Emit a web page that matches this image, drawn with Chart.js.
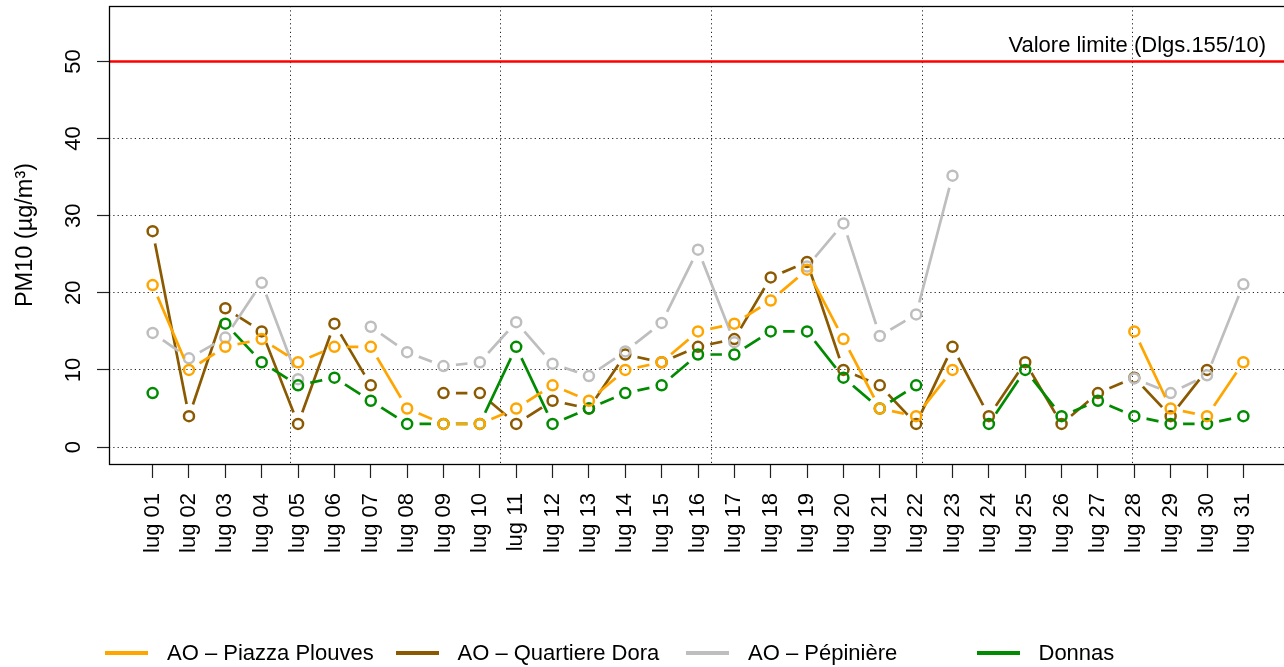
<!DOCTYPE html>
<html>
<head>
<meta charset="utf-8">
<script src="https://cdn.jsdelivr.net/npm/chart.js@4/dist/chart.umd.min.js"></script>
<style>
  html, body { margin: 0; padding: 0; background: #fff; overflow: hidden; }
  .wrap { position: relative; width: 1284px; height: 667px; overflow: hidden; }
  canvas { display: block; }
  .legend { position: absolute; left: 0; top: 0; width: 1284px; height: 667px; pointer-events: none; }
  .legend__item { position: absolute; top: 640px; height: 26px; }
  .legend__line { position: absolute; left: 0; top: 11px; width: 43px; height: 4px; }
  .legend__text { position: absolute; left: 62px; top: 0; white-space: nowrap;
    font: 22px "Liberation Sans", Arial, sans-serif; line-height: 26px; color: #000; }
</style>
</head>
<body>
<div class="wrap">
  <!-- a little wider than the window: the plot frame's right edge falls just outside, as in the original -->
  <canvas id="pm10" width="1287" height="667"></canvas>
  <div class="legend" id="legend"></div>
</div>
<script>
(function () {
  "use strict";

  var days = ["lug 01", "lug 02", "lug 03", "lug 04", "lug 05", "lug 06", "lug 07", "lug 08",
    "lug 09", "lug 10", "lug 11", "lug 12", "lug 13", "lug 14", "lug 15", "lug 16", "lug 17",
    "lug 18", "lug 19", "lug 20", "lug 21", "lug 22", "lug 23", "lug 24", "lug 25", "lug 26",
    "lug 27", "lug 28", "lug 29", "lug 30", "lug 31"];

  var piazzaPlouves = [21, 10, 13, 14, 11, 13, 13, 5, 3, 3, 5, 8, 6, 10, 11, 15, 16, 19, 23, 14,
    5, 4, 10, null, null, null, null, 15, 5, 4, 11];
  var quartiereDora = [28, 4, 18, 15, 3, 16, 8, null, 7, 7, 3, 6, 5, 12, 11, 13, 14, 22, 24, 10,
    8, 3, 13, 4, 11, 3, 7, 9, 4, 10, null];
  var pepiniere = [14.8, 11.5, 14.2, 21.3, 8.8, null, 15.6, 12.3, 10.5, 11.0, 16.2, 10.8, 9.2,
    12.4, 16.1, 25.6, 13.6, null, 23.4, 29.0, 14.4, 17.2, 35.2, null, null, null, null, 8.9, 7.0,
    9.3, 21.1];
  var donnas = [7, null, 16, 11, 8, 9, 6, 3, 3, 3, 13, 3, 5, 7, 8, 12, 12, 15, 15, 9, 5, 8, null,
    3, 10, 4, 6, 4, 3, 3, 4];

  var limitValue = 50;
  var limitLabel = "Valore limite (Dlgs.155/10)";
  var yTicks = [0, 10, 20, 30, 40, 50];
  var gridX = [3.78, 9.58, 15.37, 21.17, 26.96];

  var series = [
    { name: "AO \u2013 Piazza Plouves", data: piazzaPlouves, color: "#FFA500", rank: 0 },
    { name: "AO \u2013 Quartiere Dora", data: quartiereDora, color: "#8B5A00", rank: 3 },
    { name: "AO \u2013 P\u00e9pini\u00e8re", data: pepiniere, color: "#BEBEBE", rank: 2 },
    { name: "Donnas", data: donnas, color: "#008B00", rank: 1 }
  ];

  var FONT = '"Liberation Sans", Arial, sans-serif';
  var X_MIN = -1.2, X_MAX = 31.2;
  var GAP = 12.5;

  function toXY(arr) {
    return arr.map(function (v, i) { return { x: i, y: v }; });
  }

  var datasets = [];
  series.forEach(function (s) {
    // line (with gaps around its own points, like R type = "b")
    datasets.push({
      label: s.name,
      data: toXY(s.data),
      borderColor: s.color,
      borderWidth: 2.7,
      pointRadius: 0,
      pointHoverRadius: 0,
      fill: false,
      tension: 0,
      spanGaps: false,
      order: s.rank * 2 + 1,
      gapLine: true
    });
    datasets.push({
      label: s.name + " points",
      data: toXY(s.data),
      showLine: false,
      borderColor: s.color,
      backgroundColor: "rgba(0,0,0,0)",
      pointStyle: "circle",
      pointRadius: 5,
      pointBorderWidth: 2.5,
      pointHoverRadius: 5,
      order: s.rank * 2
    });
  });

  datasets.push({
    label: "limite",
    data: [{ x: X_MIN, y: limitValue }, { x: X_MAX, y: limitValue }],
    borderColor: "#FF0000",
    borderWidth: 2.6,
    pointRadius: 0,
    order: 20
  });

  var gapPlugin = {
    id: "gapPlugin",
    beforeDatasetDraw: function (chart, args) {
      var ds = chart.data.datasets[args.index];
      if (!ds.gapLine) return;
      var ctx = chart.ctx;
      ctx.save();
      ctx.beginPath();
      ctx.rect(0, 0, chart.width, chart.height);
      args.meta.data.forEach(function (p) {
        if (p.skip) return;
        ctx.moveTo(p.x + GAP, p.y);
        ctx.arc(p.x, p.y, GAP, 0, Math.PI * 2);
      });
      ctx.clip("evenodd");
    },
    afterDatasetDraw: function (chart, args) {
      if (chart.data.datasets[args.index].gapLine) chart.ctx.restore();
    }
  };

  var frame = {
    id: "frame",
    afterDraw: function (chart) {
      var a = chart.chartArea, ctx = chart.ctx;
      var y = chart.scales.y;
      ctx.save();
      ctx.strokeStyle = "#000";
      ctx.lineWidth = 1.3;
      ctx.strokeRect(Math.round(a.left) + 0.5, Math.round(a.top) + 0.5,
        Math.round(a.right - a.left), Math.round(a.bottom - a.top));
      ctx.fillStyle = "#000";
      ctx.font = "22px " + FONT;
      ctx.textAlign = "right";
      ctx.textBaseline = "alphabetic";
      ctx.fillText(limitLabel, a.right - 21, y.getPixelForValue(limitValue) - 10);
      ctx.restore();
    }
  };

  function noPad(scale) {
    scale.paddingLeft = 0;
    scale.paddingRight = 0;
    scale.paddingTop = 0;
    scale.paddingBottom = 0;
  }

  var dotted = [1.2, 3.1];

  new Chart(document.getElementById("pm10"), {
    type: "line",
    data: { datasets: datasets },
    options: {
      responsive: false,
      animation: false,
      devicePixelRatio: 1,
      layout: { autoPadding: false, padding: { left: 0, right: 0, top: 6, bottom: 0 } },
      plugins: { legend: { display: false }, tooltip: { enabled: false } },
      events: [],
      scales: {
        x: {
          type: "linear",
          position: "bottom",
          min: X_MIN,
          max: X_MAX,
          afterBuildTicks: function (scale) {
            scale.ticks = days.map(function (d, i) { return { value: i }; });
          },
          afterFit: function (scale) { scale.height = 203; noPad(scale); },
          ticks: {
            autoSkip: false,
            minRotation: 90,
            maxRotation: 90,
            padding: 15,
            color: "#000",
            font: { family: FONT, size: 22 },
            callback: function (v) { return days[v]; }
          },
          grid: { drawOnChartArea: false, drawTicks: true, tickLength: 14, tickColor: "#222", tickWidth: 1.2 },
          border: { display: false }
        },
        x2: {
          type: "linear",
          position: "top",
          min: X_MIN,
          max: X_MAX,
          afterBuildTicks: function (scale) {
            scale.ticks = gridX.map(function (v) { return { value: v }; });
          },
          afterFit: function (scale) { scale.height = 0; noPad(scale); },
          ticks: { display: false },
          grid: { drawTicks: false, color: "#222", lineWidth: 1 },
          border: { display: false, dash: dotted }
        },
        y: {
          type: "linear",
          position: "left",
          min: -2.2,
          max: 57.2,
          afterBuildTicks: function (scale) {
            scale.ticks = yTicks.map(function (v) { return { value: v }; });
          },
          afterFit: function (scale) { scale.width = 109; noPad(scale); },
          ticks: {
            minRotation: 90,
            maxRotation: 90,
            crossAlign: "center",
            padding: 11,
            color: "#000",
            font: { family: FONT, size: 22 }
          },
          grid: { color: "#222", lineWidth: 1, tickLength: 12, tickColor: "#222", tickWidth: 1.2 },
          border: { display: false, dash: dotted },
          title: {
            display: true,
            text: "PM10 (\u00b5g/m\u00b3)",
            color: "#000",
            font: { family: FONT, size: 23.5 },
            padding: { top: 11, bottom: 0 }
          }
        }
      }
    },
    plugins: [gapPlugin, frame]
  });

  // legend laid out in equal columns like the R legend
  var legend = document.getElementById("legend");
  series.forEach(function (s, i) {
    var item = document.createElement("div");
    item.className = "legend__item";
    item.style.left = (105 + i * 290.5) + "px";
    var line = document.createElement("div");
    line.className = "legend__line";
    line.style.background = s.color;
    var text = document.createElement("div");
    text.className = "legend__text";
    text.textContent = s.name;
    item.appendChild(line);
    item.appendChild(text);
    legend.appendChild(item);
  });
})();
</script>
</body>
</html>
